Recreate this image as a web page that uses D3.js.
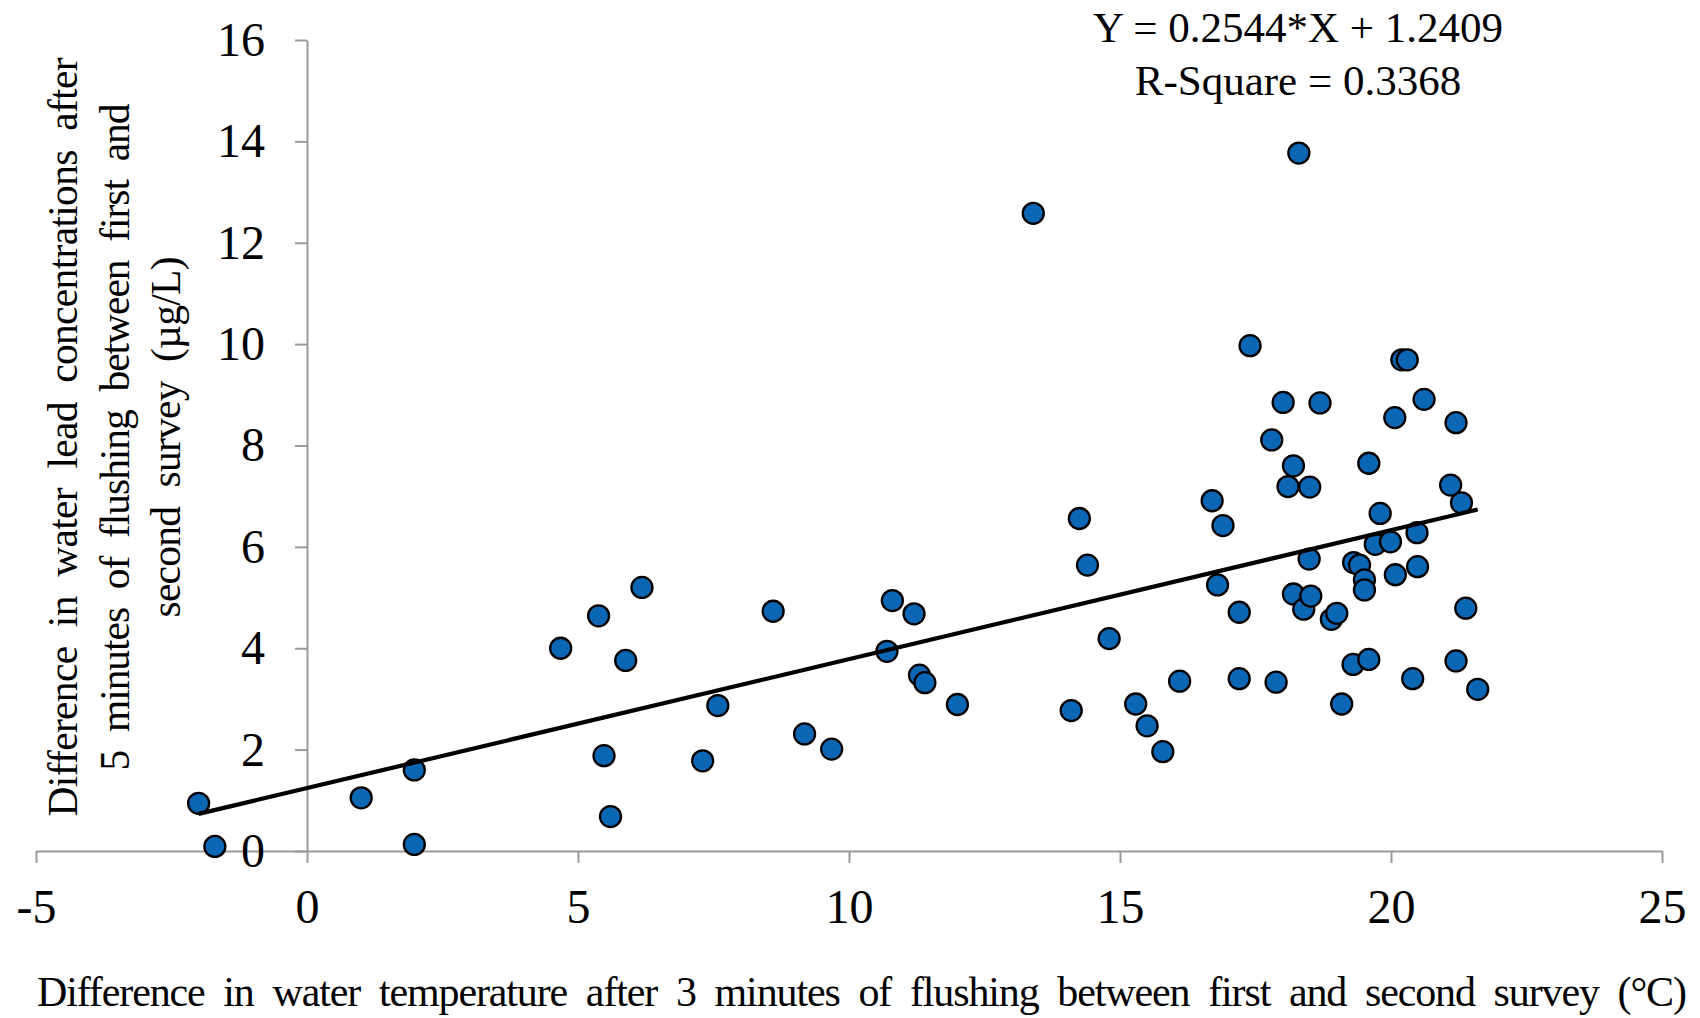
<!DOCTYPE html>
<html>
<head>
<meta charset="utf-8">
<script src="https://cdn.jsdelivr.net/npm/d3@7/dist/d3.min.js"></script>
<style>
	body { margin: 0; background: #fff; }
	svg text { font-family: "Liberation Serif", "Times New Roman", serif; fill: #000; white-space: pre; }
	.axis path, .axis line { stroke: #9a9a9a; stroke-width: 2; }
</style>
</head>
<body>
<svg id="chart" width="1700" height="1018"></svg>
<script>
// 散点数据 (温度差, 铅浓度差)
var tempDiff = [-2.0, -1.7, 1.0, 1.98, 1.98, 4.68, 5.38, 5.48, 5.6, 5.88,
	6.18, 7.3, 7.58, 8.6, 9.18, 9.68, 10.7, 10.8, 11.2, 11.3,
	11.4, 12.0, 13.4, 14.1, 14.25, 14.4, 14.8, 15.29, 15.5, 15.79,
	16.1, 16.7, 16.8, 16.9, 17.2, 17.2, 17.4, 17.8, 17.88, 18.01,
	18.1, 18.2, 18.2, 18.3, 18.39, 18.5, 18.49, 18.52, 18.69, 18.9,
	19.0, 19.09, 19.3, 19.31, 19.42, 19.51, 19.51, 19.59, 19.59, 19.71,
	19.8, 19.99, 20.07, 20.08, 20.2, 20.3, 20.4, 20.48, 20.49, 20.61,
	21.1, 21.2, 21.2, 21.3, 21.38, 21.6];
var leadDiff = [0.94, 0.09, 1.05, 1.6, 0.13, 4.0, 4.64, 1.88, 0.68, 3.76,
	5.2, 1.78, 2.87, 4.73, 2.31, 2.01, 3.94, 4.94, 4.68, 3.47,
	3.32, 2.89, 12.58, 2.77, 6.56, 5.64, 4.19, 2.9, 2.47, 1.96,
	3.35, 6.91, 5.25, 6.42, 4.71, 3.4, 9.97, 8.11, 3.33, 8.85,
	7.19, 7.6, 5.07, 13.77, 4.77, 7.18, 5.76, 5.03, 8.84, 4.57,
	4.69, 2.9, 3.68, 5.69, 5.64, 5.35, 5.15, 7.65, 3.78, 6.05,
	6.66, 6.1, 8.55, 5.45, 9.69, 9.69, 3.4, 6.28, 5.61, 8.91,
	7.22, 8.45, 3.75, 6.87, 4.79, 3.19];

var xTicks = [-5, 0, 5, 10, 15, 20, 25];
var yTicks = [0, 2, 4, 6, 8, 10, 12, 14, 16];

// 回归线 Y = 0.2544*X + 1.2409
var slope = 0.2544,
	intercept = 1.2409,
	fitRange = [-2.0, 21.6];
var fitLabels = ["Y = 0.2544*X + 1.2409", "R-Square = 0.3368"];

var xTitle = "Difference  in  water  temperature  after  3  minutes  of  flushing  between  first  and  second  survey  (\u00B0C)";
var yTitle = ["Difference  in  water  lead  concentrations  after",
	"5  minutes  of  flushing  between  first  and",
	"second  survey  (\u00B5g/L)"];

var svg = d3.select("#chart");

var x = d3.scaleLinear().domain([-5, 25]).range([36, 1662]),
	y = d3.scaleLinear().domain([0, 16]).range([851, 40]);

var data = tempDiff.map(function(v, i) {
	return { x: v, y: leadDiff[i] };
});

//坐标轴
var xAxis = svg.append("g")
	.attr("class", "axis")
	.attr("transform", "translate(0," + y(0) + ")")
	.call(d3.axisBottom(x).tickValues(xTicks).tickSize(12).tickSizeOuter(0).tickPadding(26)
		.tickFormat(function(d) { return String(d); }));
xAxis.selectAll("text")
	.style("font-size", "48px")
	.style("font-family", '"Liberation Serif", serif')
	.attr("fill", "#000");

var yAxis = svg.append("g")
	.attr("class", "axis")
	.attr("transform", "translate(" + x(0) + ",0)")
	.call(d3.axisLeft(y).tickValues(yTicks).tickSize(12).tickSizeOuter(0).tickPadding(30)
		.tickFormat(function(d) { return String(d); }));
yAxis.selectAll("text")
	.style("font-size", "48px")
	.style("font-family", '"Liberation Serif", serif')
	.attr("fill", "#000");

//散点
svg.append("g")
	.selectAll("circle")
	.data(data)
	.enter().append("circle")
	.attr("cx", function(d) {
		return x(d.x);
	})
	.attr("cy", function(d) {
		return y(d.y);
	})
	.attr("r", 10.5)
	.style("fill", "#0b66b4")
	.style("stroke", "#000")
	.style("stroke-width", 2.3);

//回归线
svg.append("line")
	.attr("x1", x(fitRange[0]))
	.attr("y1", y(slope * fitRange[0] + intercept))
	.attr("x2", x(fitRange[1]))
	.attr("y2", y(slope * fitRange[1] + intercept))
	.style("stroke", "#000")
	.style("stroke-width", 4.2);

//公式
svg.selectAll(".fit-label")
	.data(fitLabels)
	.enter().append("text")
	.attr("class", "fit-label")
	.attr("x", 1298)
	.attr("y", function(d, i) {
		return 42 + i * 53;
	})
	.attr("text-anchor", "middle")
	.style("font-size", "43px")
	.text(function(d) {
		return d;
	});

//坐标轴标题
svg.append("text")
	.attr("x", 862)
	.attr("y", 1006)
	.attr("text-anchor", "middle")
	.attr("textLength", 1650)
	.attr("lengthAdjust", "spacing")
	.style("font-size", "42px")
	.text(xTitle);

var yTitleLens = [759, 667, 361];
svg.selectAll(".y-title")
	.data(yTitle)
	.enter().append("text")
	.attr("class", "y-title")
	.attr("transform", function(d, i) {
		return "translate(" + (77 + i * 51.7) + ",437) rotate(-90)";
	})
	.attr("text-anchor", "middle")
	.attr("textLength", function(d, i) {
		return yTitleLens[i];
	})
	.attr("lengthAdjust", "spacing")
	.style("font-size", "41.5px")
	.text(function(d) {
		return d;
	});
</script>
</body>
</html>
